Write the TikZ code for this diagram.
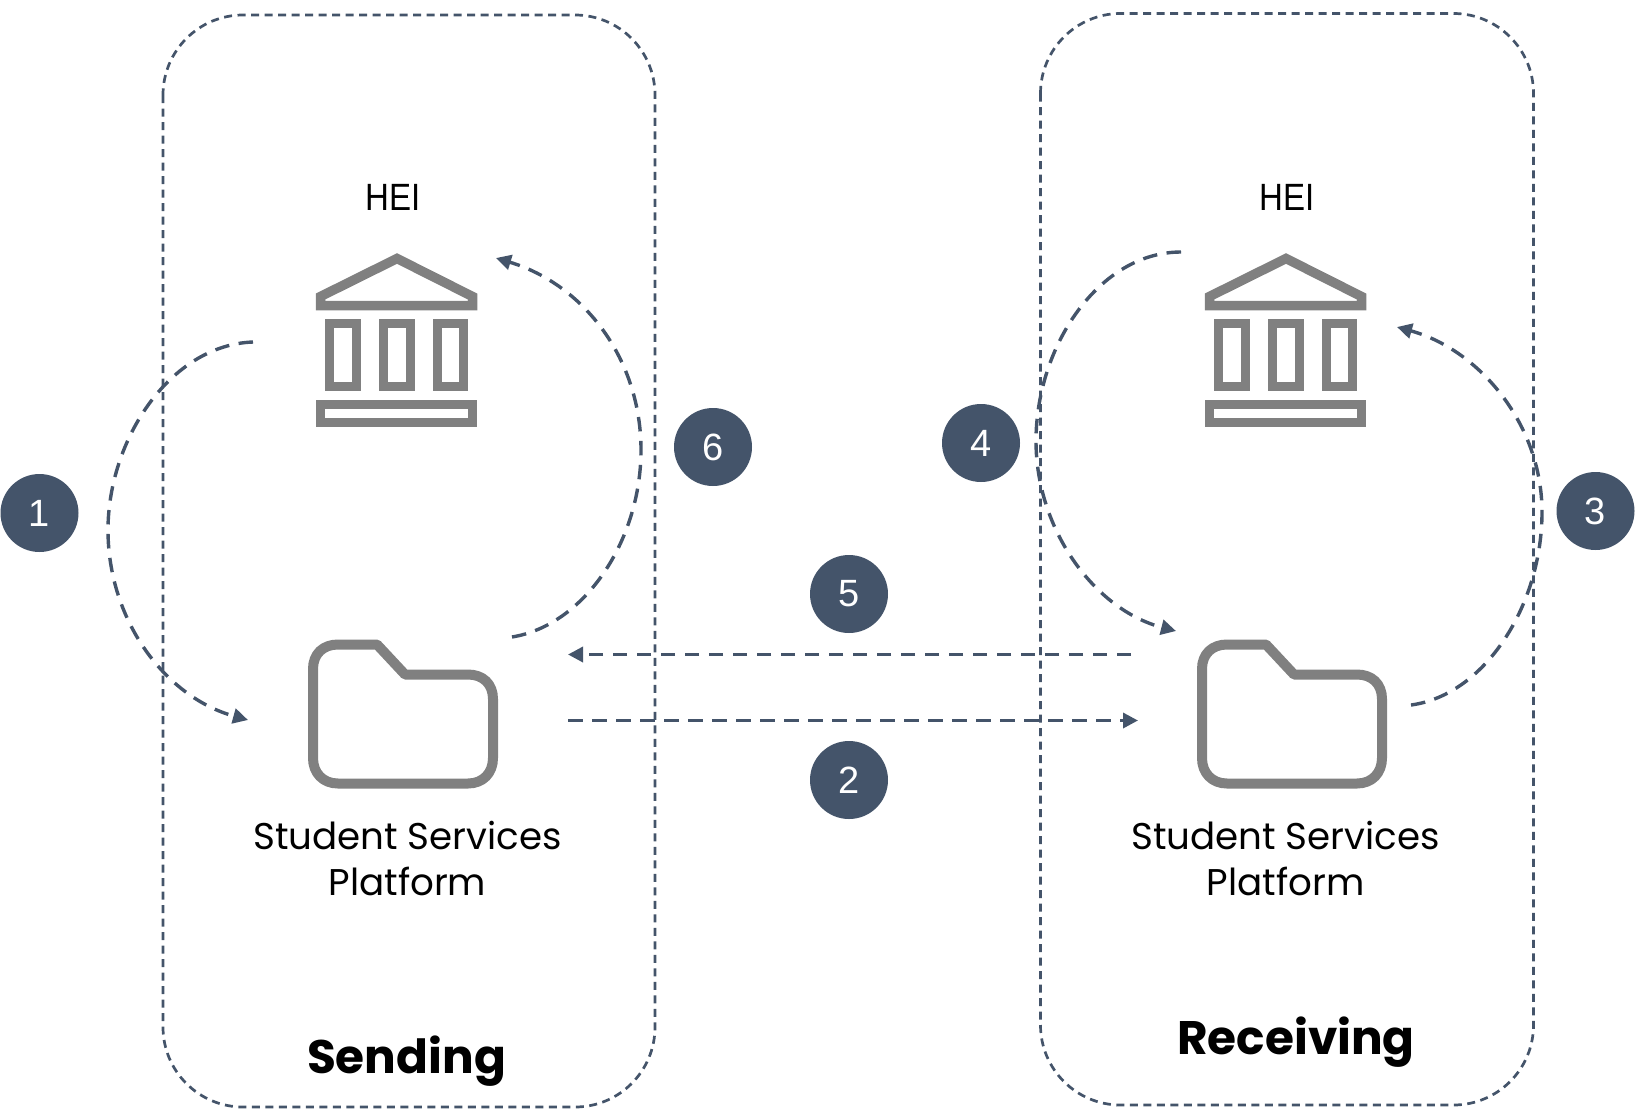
\documentclass[tikz,border=0pt]{standalone}
\usepackage{fontspec}
\setmainfont{Poppins}
\newfontfamily\numfont{Liberation Sans}
\newfontfamily\heifont[FakeStretch=0.87]{Liberation Sans}
\usetikzlibrary{arrows.meta}
\definecolor{slate}{HTML}{44546A}
\definecolor{icongray}{HTML}{808080}
\tikzset{
  x=1pt,y=-1pt,
  zone/.style={draw=slate,line width=2.7pt,dash pattern=on 8pt off 5.5pt,rounded corners=80pt},
  flow/.style={draw=slate,line width=3.4pt,dash pattern=on 14.5pt off 9.5pt,-{Triangle[length=15pt,width=15pt]}},
  badge/.style={circle,fill=slate,text=white,minimum size=78pt,inner sep=0pt,font=\numfont\fontsize{38}{38}\selectfont},
  label/.style={align=center,inner sep=0pt,text=black,font=\fontsize{37.2}{46}\selectfont},
  hei/.style={inner sep=0pt,text=black,font=\heifont\fontsize{38}{38}\selectfont},
  title/.style={inner sep=0pt,text=black,font=\bfseries\fontsize{47}{47}\selectfont},
  icon/.style={draw=icongray,line width=9.5pt,miter limit=10,fill=none},
  foldericon/.style={draw=icongray,line width=10pt,line join=round,fill=none},
}
\newcommand{\bankicon}[1]{%
  \begin{scope}[shift={(#1,0)}]
    \draw[icon] (320.5,296.5) -- (397,258.5) -- (472.5,296.5) -- (472.5,305.5) -- (320.5,305.5) -- cycle;
    \draw[icon] (329.5,323.5) rectangle (356.5,386.5);
    \draw[icon] (383.5,323.5) rectangle (410.5,386.5);
    \draw[icon] (437.5,323.5) rectangle (463.5,386.5);
    \draw[icon] (320.5,404.5) rectangle (472.5,422.5);
  \end{scope}}
\newcommand{\foldericon}[1]{%
  \begin{scope}[shift={(#1,0)}]
    \draw[foldericon] (377,644.5) -- (405,674.5) -- (468,674.5)
      .. controls (483,674.5) and (493,684) .. (493,699)
      -- (493,758) .. controls (493,773) and (483,783.5) .. (468,783.5)
      -- (338,783.5) .. controls (323,783.5) and (313,773) .. (313,758)
      -- (313,669) .. controls (313,654) and (323,644.5) .. (338,644.5) -- cycle;
  \end{scope}}
\begin{document}
\begin{tikzpicture}
\useasboundingbox (0,0) rectangle (1638,1109);
% zones
\draw[zone] (163,15) rectangle (655,1107);
\draw[zone] (1040.5,13.5) rectangle (1533.5,1105);
% icons
\bankicon{0}
\bankicon{889}
\foldericon{0}
\foldericon{889}
% labels
\node[hei] (heiL) at (393,197) {HEI};
\node[hei] (heiR) at (1287,197) {HEI};
\node[label] (sspL) at (407.5,858) {Student Services\\Platform};
\node[label] (sspR) at (1285.5,858) {Student Services\\Platform};
\node[title] (sending) at (406.5,1061) {Sending};
\node[title] (receiving) at (1296,1042) {Receiving};
% badges
\node[badge] (n1) at (39.5,513) {1};
\node[badge] (n2) at (849,780) {2};
\node[badge] (n3) at (1595.5,511) {3};
\node[badge] (n4) at (981,443) {4};
\node[badge] (n5) at (849,594) {5};
\node[badge] (n6) at (713,447) {6};
% connector ends
\coordinate (a1s) at (253,342);
\coordinate (a1m) at (108,530);
\coordinate (a1e) at (248,720);
\coordinate (a6s) at (512,637);
\coordinate (a6m) at (641,450);
\coordinate (a6e) at (496,258);
\coordinate (a4s) at (1181,252);
\coordinate (a4m) at (1036,441);
\coordinate (a4e) at (1176,631);
\coordinate (a3s) at (1411,705);
\coordinate (a3m) at (1542,512);
\coordinate (a3e) at (1397,327);
\coordinate (a5s) at (1131,654.5);
\coordinate (a5e) at (568,654.5);
\coordinate (a2s) at (568,720.5);
\coordinate (a2e) at (1138,720.5);
% connectors
\draw[flow] (a1s) .. controls (170,345) and (108,440) .. (a1m) .. controls (108,620) and (165,697) .. (a1e);
\draw[flow] (a6s) .. controls (585,625) and (641,540) .. (a6m) .. controls (641,360) and (585,285) .. (a6e);
\draw[flow] (a4s) .. controls (1100,252) and (1036,345) .. (a4m) .. controls (1036,530) and (1095,610) .. (a4e);
\draw[flow] (a3s) .. controls (1485,695) and (1542,605) .. (a3m) .. controls (1542,425) and (1480,350) .. (a3e);
\draw[flow] (a5s) -- (a5e);
\draw[flow] (a2s) -- (a2e);
\end{tikzpicture}
\end{document}
